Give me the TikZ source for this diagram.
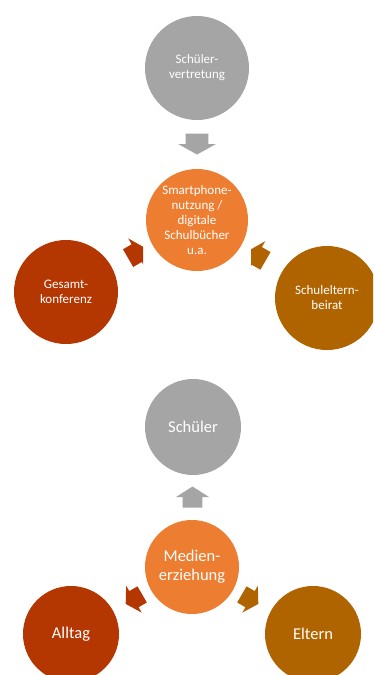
\documentclass[tikz,border=0pt]{standalone}
\usepackage{fontspec}
\setmainfont{Carlito}
\usetikzlibrary{calc}

\definecolor{grau}{HTML}{A5A5A5}
\definecolor{orange}{HTML}{ED7D31}
\definecolor{rost}{HTML}{B43600}
\definecolor{ocker}{HTML}{AF6400}

\tikzset{
	bubble/.style={circle, inner sep=0pt, text=white, align=center,
		font=\fontsize{13}{15}\selectfont},
	bigbubble/.style={bubble, font=\fontsize{16.5}{19}\selectfont},
	% block arrow pointing along +x, unit length and width
	pics/blockarrow/.style={code={
		\fill[#1] (-0.5,-0.3) -- (0,-0.3) -- (0,-0.5) -- (0.5,0)
			-- (0,0.5) -- (0,0.3) -- (-0.5,0.3) -- cycle;
	}}
}

\begin{document}
\begin{tikzpicture}[x=1pt,y=1pt]
	\clip (0,0) rectangle (373,-675);

	% converging part
	\node[bubble, fill=grau, minimum size=104pt] (sv) at (197,-68) {Schüler-\\vertretung};
	\node[bubble, fill=orange, minimum size=102pt] (sm) at (197,-220) {Smartphone-\\nutzung /\\digitale\\Schulbücher\\u.a.};
	\node[bubble, fill=rost, minimum size=104pt] (gk) at (66,-292) {Gesamt-\\konferenz};
	\node[bubble, fill=ocker, minimum size=104pt] (seb) at (327,-298) {Schuleltern-\\beirat};

	\pic[rotate=-90, xscale=21, yscale=38] at ($(sv)!0.5!(sm)$) {blockarrow=grau};
	% the tips are cut off straight
	\begin{scope}
		\clip (0,-200) rectangle (143,-300);
		\pic[rotate=30, xscale=20, yscale=34] at ($(gk)!0.54!(sm)$) {blockarrow=rost};
	\end{scope}
	\begin{scope}
		\clip (251,-200) rectangle (373,-300);
		\pic[rotate=150, xscale=20, yscale=34] at ($(seb)!0.54!(sm)$) {blockarrow=ocker};
	\end{scope}

	% diverging part
	\node[bigbubble, fill=grau, minimum size=96pt] (sch) at (193,-427) {Schüler};
	\node[bigbubble, fill=orange, minimum size=94pt] (me) at (192,-567) {Medien-\\erziehung};
	\node[bigbubble, fill=rost, minimum size=96pt] (all) at (71,-634) {Alltag};
	\node[bigbubble, fill=ocker, minimum size=96pt] (elt) at (313,-634) {Eltern};

	\pic[rotate=90, xscale=21, yscale=33] at ($(me)!0.5!(sch)$) {blockarrow=grau};
	\begin{scope}
		\clip (123,-560) rectangle (190,-640);
		\pic[rotate=210, xscale=19, yscale=31] at ($(me)!0.48!(all)$) {blockarrow=rost};
	\end{scope}
	\begin{scope}
		\clip (195,-560) rectangle (262,-640);
		\pic[rotate=330, xscale=19, yscale=31] at ($(me)!0.48!(elt)$) {blockarrow=ocker};
	\end{scope}
\end{tikzpicture}
\end{document}
